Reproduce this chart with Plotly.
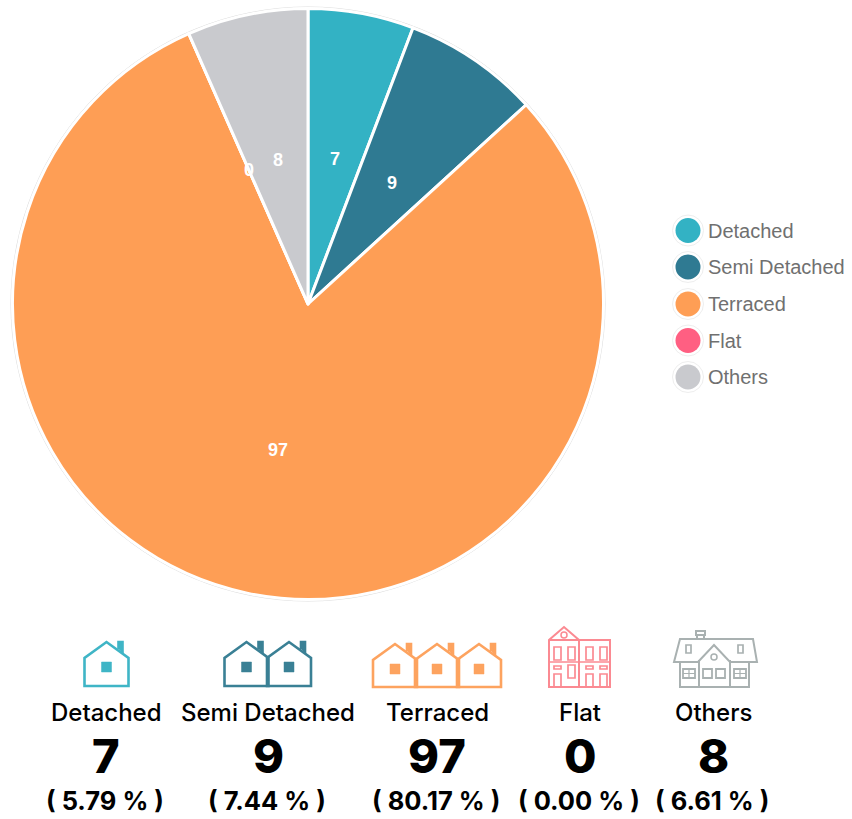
import math
import plotly.graph_objects as go

categories = ["Detached", "Semi Detached", "Terraced", "Flat", "Others"]
values = [7, 9, 97, 0, 8]
percent_labels = ["( 5.79 % )", "( 7.44 % )", "( 80.17 % )", "( 0.00 % )", "( 6.61 % )"]
colors = ["#33b2c4", "#2f7a92", "#fe9e55", "#ff5f82", "#c9cace"]
icon_colors = ["#3fb5c6", "#3a8095", "#fda35f", "#fb8a92", "#a9b1b1"]

W, H = 852, 819
CX, CY, R = 308, 304, 295.5
LABEL_R = 148
summary_x = [106, 268, 437, 580, 713]
legend_y = [230.5, 267, 304, 340.5, 377]

fig = go.Figure()
fig.add_trace(go.Pie(
    labels=categories, values=values, sort=False, direction="clockwise", rotation=0,
    marker=dict(colors=colors, line=dict(color="white", width=3)),
    textinfo="none", hoverinfo="label+value", showlegend=False,
    domain=dict(x=[(CX - R) / W, (CX + R) / W], y=[1 - (CY + R) / H, 1 - (CY - R) / H]),
))

shapes, annots = [], []


def path(d, color, width=2.6, fill=None):
    s = dict(type="path", xref="x", yref="y", path=d, line=dict(color=color, width=width), layer="above")
    if fill:
        s["fillcolor"] = fill
    shapes.append(s)


def rect(x0, y0, x1, y1, color, width=1.7, fill=None):
    path(f"M{x0},{y0} L{x1},{y0} L{x1},{y1} L{x0},{y1} Z", color, width, fill)


def ring(x, y, r, color, width=1.5):
    shapes.append(dict(type="circle", xref="x", yref="y", x0=x - r, x1=x + r, y0=y - r, y1=y + r,
                       line=dict(color=color, width=width), layer="above"))


def house(x, c, top=642, bottom=686, half=22):
    t, b = top, bottom
    path(f"M{x-half},{b} L{x-half},{t+16} L{x},{t} L{x+half},{t+16} L{x+half},{b} Z", c)
    path(f"M{x+12},{t+7} L{x+12},{t} L{x+16},{t} L{x+16},{t+11}", c, fill=c)
    rect(x - 5, t + 20, x + 5, t + 30, c, 0.5, c)


# outer thin ring
shapes.append(dict(type="circle", xref="x", yref="y", x0=CX - R - 1.5, x1=CX + R + 1.5,
                   y0=CY - R - 1.5, y1=CY + R + 1.5, line=dict(color="#dddddd", width=1), layer="below"))

# value labels on slices, placed from the data
total = sum(values)
cum = 0
for cat, v in zip(categories, values):
    ang = 2 * math.pi * (cum + v / 2) / total
    cum += v
    annots.append(dict(x=CX + LABEL_R * math.sin(ang) + 0.5, y=CY - LABEL_R * math.cos(ang) + 1, text=str(v),
                       showarrow=False, xref="x", yref="y",
                       font=dict(family="Liberation Sans", size=18, color="white", weight=700)))

# legend
for cat, c, y in zip(categories, colors, legend_y):
    shapes.append(dict(type="circle", xref="x", yref="y", x0=672.5, x1=703.5, y0=y - 15.5, y1=y + 15.5,
                       line=dict(color="#eeeeee", width=1), fillcolor="white"))
    shapes.append(dict(type="circle", xref="x", yref="y", x0=675.5, x1=700.5, y0=y - 12.5, y1=y + 12.5,
                       line=dict(width=0), fillcolor=c))
    annots.append(dict(x=705.5, y=y, text=cat, showarrow=False, xanchor="left", xref="x", yref="y",
                       font=dict(family="Liberation Sans", size=20, color="#707070")))

# summary text
for cat, v, p, x in zip(categories, values, percent_labels, summary_x):
    annots.append(dict(x=x, y=712, text=cat, showarrow=False, xref="x", yref="y",
                       font=dict(family="Inter", size=24, color="black", weight=500)))
    annots.append(dict(x=x, y=755, text=str(v), showarrow=False, xref="x", yref="y",
                       font=dict(family="Inter", size=47, color="black", weight=800)))
    annots.append(dict(x=x - 1, y=800, text=p, showarrow=False, xref="x", yref="y",
                       font=dict(family="Inter", size=25.5, color="black", weight=700)))

# icons
house(106.5, icon_colors[0])
house(246.5, icon_colors[1])
house(289, icon_colors[1])
house(395, icon_colors[2], top=644, bottom=687)
house(437, icon_colors[2], top=644, bottom=687)
house(479, icon_colors[2], top=644, bottom=687)

# flat building
c = icon_colors[3]
path("M549,687 L549,640 L564,627 L579,640 L579,687 Z", c, 2)
path("M579,640 L610,640 L610,687 L579,687", c, 2)
path("M549,640 L579,640", c, 2)
ring(564, 635, 3, c)
for wx in (554, 568, 586, 600):
    rect(wx, 647, wx + 7, 660, c)
for wx in (554, 586):
    rect(wx, 666, wx + 7, 669, c)
    path(f"M{wx},687 L{wx},674 L{wx+7},674 L{wx+7},687", c, 1.7)
rect(568, 665, 575, 678, c)
rect(600, 666, 607, 669, c)
path("M600,687 L600,674 L607,674 L607,687", c, 1.7)
path("M549,662 L610,662", c, 1.4)

# others house
c = icon_colors[4]
path("M674,662 L680,639 L753,639 L757,662 L730,662 L714,645 L698,662 Z", c, 2)
rect(696, 631, 705, 635, c, 2)
path("M697,640 L697,635 M704,640 L704,635", c, 2)
path("M680,662 L680,687 L749,687 L749,662", c, 2)
path("M699,660 L699,687 M730,660 L730,687", c, 2)
rect(686, 645, 691, 653, c, 1.7)
rect(738, 645, 743, 653, c, 1.7)
ring(714, 657, 3, c)
for x0, x1 in ((683, 695), (734, 746)):
    rect(x0, 669, x1, 678, c, 1.8)
    path(f"M{(x0+x1)/2},669 L{(x0+x1)/2},678 M{x0},673.5 L{x1},673.5", c, 1.2)
rect(703, 669, 712, 678, c, 1.8)
rect(716, 669, 725, 678, c, 1.8)

fig.update_layout(
    width=W, height=H, margin=dict(l=0, r=0, t=0, b=0), showlegend=False,
    paper_bgcolor="white", plot_bgcolor="rgba(0,0,0,0)",
    xaxis=dict(range=[0, W], visible=False, fixedrange=True),
    yaxis=dict(range=[H, 0], visible=False, fixedrange=True),
    shapes=shapes, annotations=annots,
)
fig.write_html("out.html", config=dict(displayModeBar=False),
               post_script="document.body.style.margin='0';document.documentElement.style.overflow='hidden';")
